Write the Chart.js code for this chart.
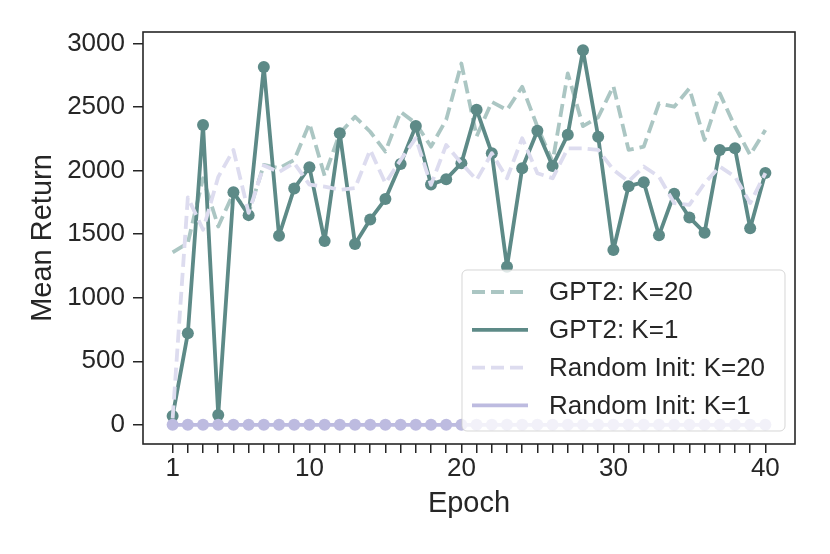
<!DOCTYPE html>
<html>
<head>
<meta charset="utf-8">
<script src="https://cdn.jsdelivr.net/npm/chart.js@4.4.0/dist/chart.umd.min.js"></script>
<style>
  html, body { margin: 0; padding: 0; background: #fff; }
</style>
</head>
<body>
<canvas id="returnChart" width="830" height="554"></canvas>
<script>
// Data
const epochs = [1, 2, 3, 4, 5, 6, 7, 8, 9, 10, 11, 12, 13, 14, 15, 16, 17, 18, 19, 20,
                21, 22, 23, 24, 25, 26, 27, 28, 29, 30, 31, 32, 33, 34, 35, 36, 37, 38, 39, 40];
const xLabelTicks = [1, 10, 20, 30, 40];
const yTicks = [0, 500, 1000, 1500, 2000, 2500, 3000];

const seriesNames = ["GPT2: K=20", "GPT2: K=1", "Random Init: K=20", "Random Init: K=1"];

const gpt2K20 = [1357, 1431, 1940, 1561, 1823, 1666, 2045, 2019, 2084, 2372,
                 1960, 2294, 2424, 2306, 2150, 2463, 2372, 2189, 2400, 2843,
                 2270, 2541, 2477, 2660, 2346, 2070, 2765, 2350, 2420, 2665,
                 2163, 2189, 2529, 2503, 2647, 2241, 2608, 2346, 2124, 2320];
const gpt2K1 = [70, 720, 2360, 78, 1830, 1650, 2815, 1488, 1860, 2027,
                1446, 2294, 1423, 1616, 1776, 2053, 2351, 1891, 1933, 2058,
                2480, 2137, 1243, 2019, 2314, 2037, 2283, 2947, 2267, 1376,
                1878, 1909, 1491, 1818, 1632, 1512, 2163, 2176, 1546, 1982];
const randomK20 = [50, 1790, 1535, 1950, 2163, 1668, 2040, 1990, 2060, 1890,
                   1875, 1849, 1862, 2163, 1901, 2084, 2255, 1888, 2202, 2058,
                   1927, 2137, 1940, 2255, 1980, 1940, 2176, 2176, 2163, 2006,
                   1915, 2032, 1953, 1745, 1731, 1901, 2032, 1953, 1745, 1980];
const randomK1 = [0, 0, 0, 0, 0, 0, 0, 0, 0, 0,
                  0, 0, 0, 0, 0, 0, 0, 0, 0, 0,
                  0, 0, 0, 0, 0, 0, 0, 0, 0, 0,
                  0, 0, 0, 0, 0, 0, 0, 0, 0, 0];

const TEAL = "#5d8a87";
const TEAL_LIGHT = "#abc6c3";
const LAV = "#bdbbe0";
const LAV_LIGHT = "#dddcef";
const INK = "#262626";
const FONT = "'Liberation Sans', Arial, sans-serif";

const toPoints = (vals) => vals.map((v, i) => ({ x: epochs[i], y: v }));

// Frame round the plot area
const framePlugin = {
  id: "frame",
  afterDatasetsDraw(chart) {
    const { ctx, chartArea: a } = chart;
    ctx.save();
    ctx.strokeStyle = INK;
    ctx.lineWidth = 1.6;
    ctx.strokeRect(a.left, a.top, a.right - a.left, a.bottom - a.top);
    ctx.restore();
  }
};

// Legend box inside the plot, lower right
const legendPlugin = {
  id: "boxLegend",
  afterDraw(chart) {
    const ctx = chart.ctx;
    const bx = 462, by = 270, bw = 323, bh = 161, r = 5;
    ctx.save();
    ctx.beginPath();
    ctx.roundRect(bx, by, bw, bh, r);
    ctx.fillStyle = "rgba(255,255,255,0.8)";
    ctx.fill();
    ctx.strokeStyle = "rgba(204,204,204,0.8)";
    ctx.lineWidth = 1;
    ctx.stroke();

    ctx.font = "26px " + FONT;
    ctx.textBaseline = "middle";
    ctx.fillStyle = INK;
    chart.data.datasets.forEach((ds, i) => {
      const y = 292 + i * 37.8;
      ctx.beginPath();
      ctx.setLineDash(ds.borderDash || []);
      ctx.strokeStyle = ds.borderColor;
      ctx.lineWidth = ds.borderWidth;
      ctx.moveTo(472, y);
      ctx.lineTo(528, y);
      ctx.stroke();
      ctx.setLineDash([]);
      ctx.fillText(ds.label, 549, y + 1);
    });
    ctx.restore();
  }
};

const lineStyle = { borderWidth: 3.8, borderJoinStyle: "round", borderCapStyle: "butt" };

new Chart(document.getElementById("returnChart"), {
  type: "line",
  data: {
    datasets: [
      {
        label: seriesNames[0], data: toPoints(gpt2K20), order: 3, ...lineStyle,
        borderColor: TEAL_LIGHT, borderDash: [13, 6], pointRadius: 0
      },
      {
        label: seriesNames[1], data: toPoints(gpt2K1), order: 2, ...lineStyle,
        borderColor: TEAL,
        pointRadius: 6, pointBackgroundColor: TEAL, pointBorderWidth: 0
      },
      {
        label: seriesNames[2], data: toPoints(randomK20), order: 1, ...lineStyle,
        borderColor: LAV_LIGHT, borderDash: [13, 6], pointRadius: 0
      },
      {
        label: seriesNames[3], data: toPoints(randomK1), order: 0, ...lineStyle,
        borderColor: LAV,
        pointRadius: 6, pointBackgroundColor: LAV, pointBorderWidth: 0
      }
    ]
  },
  options: {
    responsive: false,
    animation: false,
    events: [],
    layout: { padding: { top: 32, right: 35, left: 0, bottom: 0 } },
    plugins: { legend: { display: false }, tooltip: { enabled: false } },
    scales: {
      x: {
        type: "linear",
        min: -0.95,
        max: 41.95,
        afterBuildTicks: (s) => { s.ticks = epochs.map(v => ({ value: v })); },
        afterFit: (s) => { s.height = 110; },
        ticks: {
          autoSkip: false,
          maxRotation: 0,
          padding: 0,
          color: INK,
          font: { family: FONT, size: 26 },
          callback: (v) => xLabelTicks.includes(v) ? String(v) : ""
        },
        grid: { drawOnChartArea: false, drawTicks: true, tickLength: 9, color: INK, lineWidth: 1.5 },
        border: { display: false },
        title: {
          display: true, text: "Epoch", color: INK,
          font: { family: FONT, size: 29 }, padding: { top: 0, bottom: 33 }
        }
      },
      y: {
        min: -151,
        max: 3091,
        afterBuildTicks: (s) => { s.ticks = yTicks.map(v => ({ value: v })); },
        afterFit: (s) => { s.width = 143; },
        ticks: {
          padding: 8,
          color: INK,
          font: { family: FONT, size: 26 },
          callback: (v) => String(v)
        },
        grid: { drawOnChartArea: false, drawTicks: true, tickLength: 10, color: INK, lineWidth: 1.5 },
        border: { display: false },
        title: {
          display: true, text: "Mean Return", color: INK,
          font: { family: FONT, size: 29 }, padding: { top: 26, bottom: 0 }
        }
      }
    }
  },
  plugins: [framePlugin, legendPlugin]
});
</script>
</body>
</html>
